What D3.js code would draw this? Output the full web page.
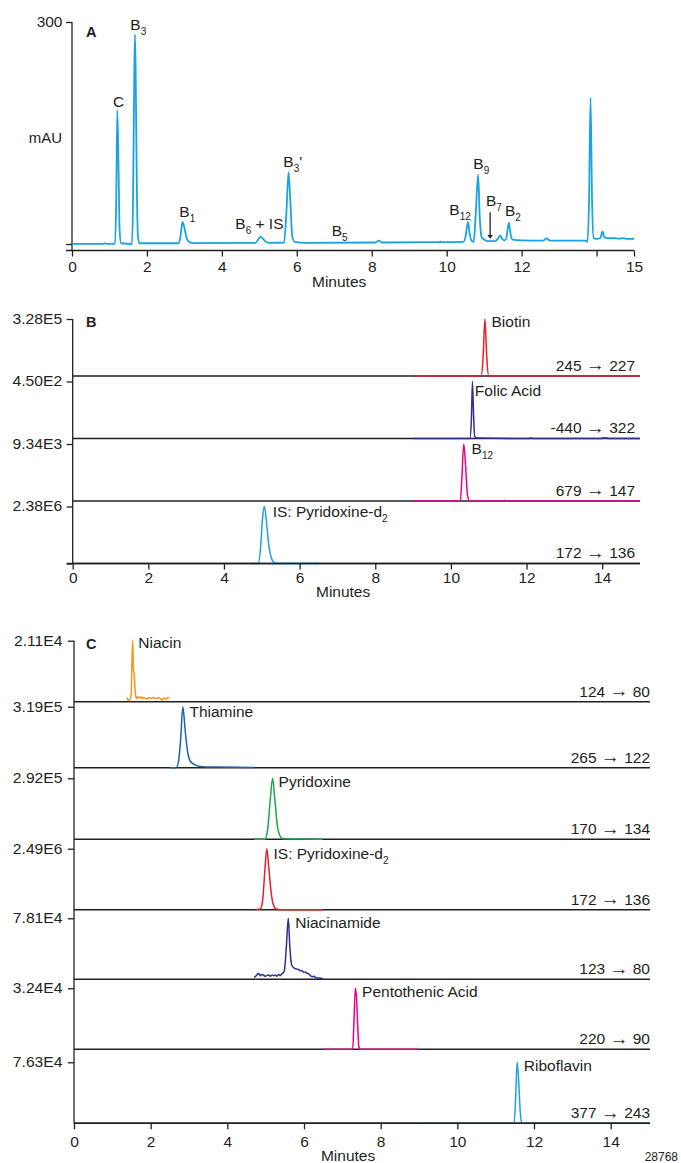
<!DOCTYPE html>
<html>
<head>
<meta charset="utf-8">
<script src="https://cdn.jsdelivr.net/npm/d3@7"></script>
<style>
  body { margin: 0; background: #fff; }
  svg text { font-family: "Liberation Sans", Arial, Helvetica, sans-serif; fill: #231f20; }
</style>
</head>
<body>
<svg width="681" height="1163"></svg>
<script>
// ---------------- data ----------------
const minutes = [0, 15];
const xTicksA = [0, 2, 4, 6, 8, 10, 12, 14, 15];
const xTicksBC = [0, 2, 4, 6, 8, 10, 12, 14];

// A: UV trace  [min, mAU]
const traceA = [[0,0.3],[0.85,0.3],[0.88,1.2],[0.92,0.3],[1.15,0.3],[1.18,60],[1.21,181],[1.24,110],[1.27,20],[1.31,1],
  [1.6,0],[1.63,60],[1.66,220],[1.68,283],[1.7,230],[1.73,80],[1.76,10],[1.8,1],[2.85,1],[2.9,12],[2.95,30],[3.0,22],
  [3.06,8],[3.13,2.5],[3.25,1.2],[4.9,1.5],[4.97,6],[5.03,10],[5.1,7],[5.17,3],[5.3,1.5],[5.66,2],[5.72,40],[5.78,97],
  [5.83,55],[5.88,10],[5.95,3],[6.2,1.5],[8.1,2],[8.19,4.5],[8.27,2],[9.8,2.5],[9.83,3.5],[9.86,2.5],[10.45,3],[10.5,9],
  [10.57,29.7],[10.62,12],[10.67,4],[10.72,3],[10.77,35],[10.84,93.7],[10.88,40],[10.93,10],[11.0,6],[11.1,4],[11.3,4],
  [11.38,8],[11.43,11.7],[11.48,7],[11.55,5],[11.6,10],[11.66,29],[11.71,12],[11.76,6],[12.0,5],[12.58,4.5],[12.67,7.7],
  [12.74,5],[12.85,4.5],[13.7,4.5],[13.76,3],[13.8,60],[13.84,197.7],[13.88,60],[13.92,8],[14.0,7],[14.1,8],[14.16,17],
  [14.21,9],[14.3,8],[14.5,8],[14.6,7],[14.7,8],[14.8,7],[15,7]];

// A peak labels: base, subscript, rest
const labelsA = [["C","",""],["B","3",""],["B","1",""],["B","6"," + IS"],["B","3","'"],["B","5",""],
  ["B","12",""],["B","9",""],["B","7",""],["B","2",""]];

// B: MRM traces, % of full scale  [min, %]
const namesB = [["Biotin",""],["Folic Acid",""],["B","12"],["IS: Pyridoxine-d","2"]];
const maxB = ["3.28E5", "4.50E2", "9.34E3", "2.38E6"];
const mrmB = [["245", "227"], ["-440", "322"], ["679", "147"], ["172", "136"]];
const peakB = [10.90, 10.57, 10.34, 5.07];
const biotin = [[9,0],[10.8,0],[10.85,30],[10.9,100],[10.95,30],[11.0,0],[15,0]];
const folic = [[9,0],[10.5,0],[10.54,30],[10.57,100],[10.6,40],[10.63,3],[10.7,1],[12.08,0],[12.11,1.5],[12.14,0],
  [13.98,0],[14.03,1.5],[14.08,0.5],[14.12,1.5],[14.16,0],[15,0]];
const b12 = [[9,0],[10.25,0],[10.29,40],[10.34,100],[10.39,60],[10.44,10],[10.5,0],[11.4,0],[11.42,1.5],[11.45,0],
  [14.4,0],[14.42,1.5],[14.45,0],[15,0]];
const isB = [[4.69,0],[4.9,0],[4.97,30],[5.02,80],[5.07,100],[5.12,75],[5.18,35],[5.25,10],[5.32,2],[5.4,0],[6.49,0]];
const tracesB = [biotin, folic, b12, isB];

// C: MRM traces, % of full scale
const namesC = [["Niacin",""],["Thiamine",""],["Pyridoxine",""],["IS: Pyridoxine-d","2"],["Niacinamide",""],
  ["Pentothenic Acid",""],["Riboflavin",""]];
const maxC = ["2.11E4", "3.19E5", "2.92E5", "2.49E6", "7.81E4", "3.24E4", "7.63E4"];
const mrmC = [["124", "80"], ["265", "122"], ["170", "134"], ["172", "136"], ["123", "80"], ["220", "90"], ["377", "243"]];
const peakC = [1.53, 2.84, 5.18, 5.03, 5.59, 7.34, 11.56];
const niacin = [[1.38,7],[1.41,2],[1.45,3],[1.49,10],[1.51,60],[1.53,100],[1.55,55],[1.57,45],[1.6,15],[1.63,5],
  [1.66,8],[1.7,6],[1.74,8],[1.78,5],[1.82,7],[1.86,6],[1.9,4],[1.95,7],[2.0,5],[2.05,7],[2.1,6],[2.15,5],[2.2,7],
  [2.25,5],[2.3,3],[2.35,6],[2.4,4],[2.45,7],[2.49,6]];
const thiamine = [[2.51,0],[2.66,0],[2.72,8],[2.78,44],[2.84,100],[2.9,61],[2.96,28],[3.03,11],[3.16,4.5],[3.29,2],
  [3.64,1],[4.7,0.5]];
const pyridoxine = [[4.7,0],[4.98,0],[5.05,15],[5.12,65],[5.18,100],[5.24,65],[5.3,25],[5.37,6],[5.45,1],[6.0,0.5],[6.49,0]];
const isC = [[4.73,0],[4.86,1],[4.92,15],[4.98,65],[5.03,100],[5.08,70],[5.14,30],[5.2,8],[5.28,1],[5.4,0],[6.49,0]];
const niacinamide = [[4.70,3],[4.77,7],[4.81,10],[4.86,6],[4.9,8],[4.94,7],[4.99,5],[5.03,6],[5.08,7],[5.12,5],[5.17,7],
  [5.21,6],[5.25,7],[5.29,5],[5.34,8],[5.38,6],[5.42,9],[5.45,10],[5.49,15],[5.54,54],[5.59,100],[5.63,54],[5.68,23],
  [5.75,18],[5.8,17],[5.86,16],[5.91,14],[5.95,14],[6.0,11],[6.03,12],[6.08,10],[6.12,9],[6.17,6],[6.21,4],[6.25,5],
  [6.3,3],[6.34,2],[6.4,2],[6.5,1]];
const pantothenic = [[6.51,0],[7.27,0],[7.3,40],[7.34,100],[7.37,85],[7.4,40],[7.43,5],[7.46,0],[8.98,0]];
const riboflavin = [[9.01,0],[11.48,0],[11.52,40],[11.56,100],[11.6,70],[11.64,20],[11.68,0],[15,0]];
const tracesC = [niacin, thiamine, pyridoxine, isC, niacinamide, pantothenic, riboflavin];

// ---------------- layout / style ----------------
const ink = "#231f20";
const colorA = "#1ba3e0";
const colorsB = ["#e4202a", "#2e3192", "#ec008c", "#1ba3e0"];
const colorsC = ["#f7941d", "#1c63ab", "#1fa54c", "#e4202a", "#2e3192", "#ec008c", "#1ba3e0"];
// label anchors for panel A (x, baseline y) in pixels
const labelPosA = [[118.7,107.3,"middle"],[130.3,30],[179.3,216.5],[235.3,229],[283.3,166.5],[331.7,236],
  [449.3,215.3],[473.3,169],[486,205.5],[505,216]];
const offB = [[6.6,8],[2.4,14.7],[7.8,10],[8.2,10.6]];
const offC = [[5.7,7.6],[6.6,10.6],[6,9],[6.7,10.3],[7,9.4],[6.7,9],[6.7,8.4]];

const svg = d3.select("svg");
svg.append("rect").attr("width", 681).attr("height", 1163).attr("fill", "#fff");

function styleAxis(g, size) {
  g.attr("font-family", null).attr("font-size", null);
  g.selectAll("line").attr("stroke", ink).attr("stroke-width", 1.3);
  g.selectAll("path").attr("stroke", ink).attr("stroke-width", 1.3);
  g.selectAll("text").style("font-size", size + "px").attr("fill", ink);
}

function peakLabel(g, x, y, parts, anchor, size) {
  const t = g.append("text").attr("x", x).attr("y", y).style("font-size", size + "px")
    .attr("text-anchor", anchor || "start");
  t.append("tspan").text(parts[0]);
  if (parts[1]) t.append("tspan").attr("dy", 5).style("font-size", "10px").text(parts[1]);
  if (parts[2]) t.append("tspan").attr("dy", parts[1] ? -5 : 0).text(parts[2]);
}

// "Q1 → Q3" transition label, arrow drawn a bit longer than the glyph
function mrmLabel(g, x, y, pair) {
  const t = g.append("text").attr("x", x).attr("y", y).attr("text-anchor", "end").style("font-size", "15.5px");
  t.append("tspan").text(pair[0] + " ");
  t.append("tspan").style("font-size", "19px").attr("dy", 0.5).text("\u2192");
  t.append("tspan").attr("dy", -0.5).text(" " + pair[1]);
}

// ---------------- panel A ----------------
{
  const xA = d3.scaleLinear().domain(minutes).range([72, 634]);
  const yA = d3.scaleLinear().domain([0, 300]).range([244, 22]);
  const axisY = 250.5;
  const g = svg.append("g");

  const ya = g.append("g").attr("transform", `translate(${xA(0)},0)`)
    .call(d3.axisLeft(yA).tickValues([0, 300]).tickSize(6).tickPadding(3.5).tickFormat(d => d === 300 ? "300" : ""));
  ya.select(".domain").remove();
  styleAxis(ya, 15.5);
  g.append("line").attr("x1", xA(0)).attr("x2", xA(0)).attr("y1", yA(300)).attr("y2", axisY)
    .attr("stroke", ink).attr("stroke-width", 1.3);

  const xa = g.append("g").attr("transform", `translate(0,${axisY})`)
    .call(d3.axisBottom(xA).tickValues(xTicksA).tickSize(6).tickPadding(4.6).tickSizeOuter(0)
      .tickFormat(d => d === 14 ? "" : d));
  xa.select(".domain").remove();
  styleAxis(xa, 15.5);
  g.append("line").attr("x1", xA(0) - 6).attr("x2", xA(15)).attr("y1", axisY).attr("y2", axisY)
    .attr("stroke", ink).attr("stroke-width", 1.3);

  g.append("path").datum(traceA)
    .attr("d", d3.line().x(d => xA(d[0])).y(d => yA(d[1])).curve(d3.curveMonotoneX))
    .attr("fill", "none").attr("stroke", colorA).attr("stroke-width", 1.8).attr("stroke-linejoin", "round");

  labelsA.forEach((p, i) => peakLabel(g, labelPosA[i][0], labelPosA[i][1], p, labelPosA[i][2], 15.5));

  // arrow pointing at B7
  const ax = xA(11.16);
  g.append("line").attr("x1", ax).attr("x2", ax).attr("y1", yA(43)).attr("y2", yA(12))
    .attr("stroke", ink).attr("stroke-width", 1.3);
  g.append("path").attr("d", `M${ax - 2.8},${yA(12)}L${ax + 2.8},${yA(12)}L${ax},${yA(7)}Z`).attr("fill", ink);

  g.append("text").attr("x", 86).attr("y", 37).style("font-size", "14.5px").style("font-weight", "bold").text("A");
  g.append("text").attr("x", 62).attr("y", 142.7).attr("text-anchor", "end").style("font-size", "15px").text("mAU");
  g.append("text").attr("x", xA(7.13)).attr("y", 287.3).attr("text-anchor", "middle").style("font-size", "15.5px").text("Minutes");
}

// ---------------- stacked MRM panels ----------------
function stackPanel(p) {
  const x = d3.scaleLinear().domain(minutes).range(p.xRange);
  const g = svg.append("g");
  const n = p.traces.length;
  const last = n - 1;
  const bottom = p.tops[last] + p.rowH;

  p.traces.forEach((tr, i) => {
    const top = p.tops[i], bot = top + p.rowH;
    const y = d3.scaleLinear().domain([0, 100]).range([bot, top]);

    g.append("line").attr("x1", x(0)).attr("x2", p.lineEnd).attr("y1", bot).attr("y2", bot)
      .attr("stroke", ink).attr("stroke-width", 1.5);

    const ticks = (i === last && p.zeroTick) ? [0, 100] : [100];
    const ag = g.append("g").attr("transform", `translate(${x(0)},0)`)
      .call(d3.axisLeft(y).tickValues(ticks).tickSize(6).tickPadding(p.yPad).tickFormat(d => d === 100 ? p.maxLabels[i] : ""));
    ag.select(".domain").remove();
    styleAxis(ag, 14);
    ag.selectAll("text").each(function () {
      const t = d3.select(this);
      const tx = +t.attr("x");
      t.attr("x", 0).attr("transform", `translate(${tx},0) scale(1.12,1)`);
    });

    g.append("path").datum(tr)
      .attr("d", d3.line().x(d => x(d[0])).y(d => y(d[1])).curve(d3.curveMonotoneX))
      .attr("fill", "none").attr("stroke", p.colors[i]).attr("stroke-width", 1.5).attr("stroke-linejoin", "round");

    peakLabel(g, x(p.peaks[i]) + p.offsets[i][0], top + p.offsets[i][1], [p.names[i][0], p.names[i][1], ""], "start", 15.5);

    mrmLabel(g, p.mrmX, bot - 5.2, p.mrm[i]);
  });

  g.append("line").attr("x1", x(0)).attr("x2", x(0)).attr("y1", p.tops[0]).attr("y2", bottom)
    .attr("stroke", ink).attr("stroke-width", 1.3);

  const xa = g.append("g").attr("transform", `translate(0,${bottom})`)
    .call(d3.axisBottom(x).tickValues(xTicksBC).tickSize(6).tickPadding(p.xPad).tickSizeOuter(0));
  xa.select(".domain").remove();
  styleAxis(xa, 15.5);
  g.append("line").attr("x1", x(0) - (p.zeroTick ? 6 : 0)).attr("x2", p.lineEnd).attr("y1", bottom).attr("y2", bottom)
    .attr("stroke", ink).attr("stroke-width", 1.5);

  g.append("text").attr("x", 86).attr("y", p.tops[0] + 8).style("font-size", "14.5px").style("font-weight", "bold").text(p.letter);
  g.append("text").attr("x", x(7.15)).attr("y", p.minutesY).attr("text-anchor", "middle").style("font-size", "15.5px").text("Minutes");
}

stackPanel({
  letter: "B", xRange: [72.7, 640], lineEnd: 640, tops: [319, 381.5, 444, 506.5], rowH: 57,
  traces: tracesB, colors: colorsB, names: namesB, maxLabels: maxB, mrm: mrmB, peaks: peakB, offsets: offB,
  zeroTick: true, yPad: 4.5, xPad: 2, mrmX: 635, minutesY: 596.7
});

stackPanel({
  letter: "C", xRange: [74, 649], lineEnd: 650, tops: [640.7, 706.7, 778.3, 848.7, 918.3, 988.3, 1062.3], rowH: 61,
  traces: tracesC, colors: colorsC, names: namesC, maxLabels: maxC, mrm: mrmC, peaks: peakC, offsets: offC,
  zeroTick: false, yPad: 5.5, xPad: 6.3, mrmX: 650, minutesY: 1161
});

svg.append("text").attr("x", 678).attr("y", 1161).attr("text-anchor", "end").style("font-size", "12px").text("28768");
</script>
</body>
</html>
